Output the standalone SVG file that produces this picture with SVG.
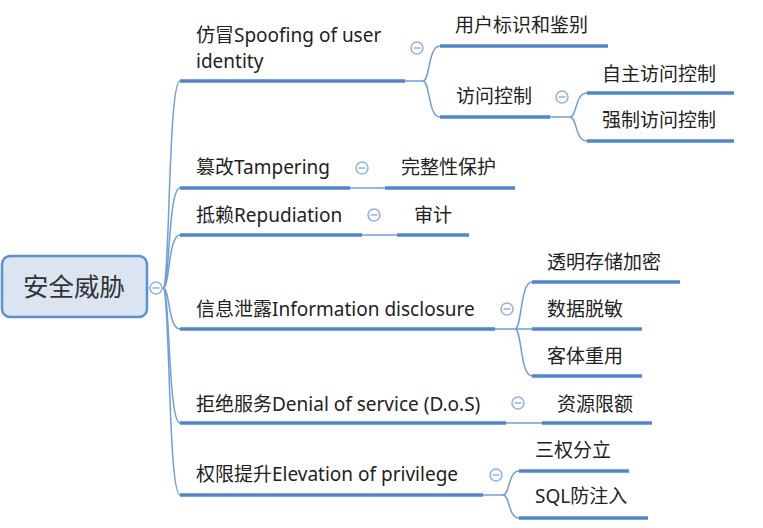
<svg xmlns="http://www.w3.org/2000/svg" width="763" height="528" viewBox="0 0 763 528">
<style>
text{font-family:"Noto Sans","Noto Sans CJK SC",sans-serif;font-size:19px;fill:#222;}
.root{font-size:25.5px;fill:#333;}
.u{stroke:#4f86d4;stroke-width:3.5;fill:none;}
.c{stroke:#6f9ee0;stroke-width:1.5;fill:none;}
.m{fill:#fff;stroke:#8fb2e6;stroke-width:1.5;}
.mb{stroke:#8fb2e6;stroke-width:1.5;}
</style>
<rect width="763" height="528" fill="#fff"/>
<g id="connectors">
<path class="c" d="M149,288 H163"/>
<path class="c" d="M163,288 C170,288 168,81 180,81"/>
<path class="c" d="M163,288 C170,288 168,188 180,188"/>
<path class="c" d="M163,288 C170,288 168,235 180,235"/>
<path class="c" d="M163,288 C170,288 168,329 180,329"/>
<path class="c" d="M163,288 C170,288 168,423 180,423"/>
<path class="c" d="M163,288 C170,288 168,495 180,495"/>
<path class="c" d="M405,81 H423 C430,81 428,46 440,46"/>
<path class="c" d="M423,81 C430,81 428,117 440,117"/>
<path class="c" d="M550,117 H570 C577,117 575,93 587,93"/>
<path class="c" d="M570,117 C577,117 575,141 587,141"/>
<path class="c" d="M350,188 H385"/>
<path class="c" d="M362,235 H397"/>
<path class="c" d="M495,329 H515 C522,329 520,282 532,282"/>
<path class="c" d="M515,329 H532"/>
<path class="c" d="M515,329 C522,329 520,376 532,376"/>
<path class="c" d="M506,423 H542"/>
<path class="c" d="M483,495 H503 C510,495 508,471 519,471"/>
<path class="c" d="M503,495 C510,495 508,518 519,518"/>
</g>
<g id="root">
<rect x="2" y="256" width="145" height="61" rx="8" fill="#dbe5f2" stroke="#5b8fd6" stroke-width="2.5"/>
<text class="root" x="74" y="296" text-anchor="middle">安全威胁</text>
<circle class="m" cx="156" cy="288" r="6"/><line class="mb" x1="152.5" y1="288" x2="159.5" y2="288"/>
</g>
<g id="spoofing">
<text x="196" y="42">仿冒Spoofing of user</text>
<text x="196" y="68">identity</text>
<path class="u" d="M180,81 H405"/>
<circle class="m" cx="417" cy="48" r="6"/><line class="mb" x1="413.5" y1="48" x2="420.5" y2="48"/>
</g>
<g id="user-auth">
<text x="455" y="32">用户标识和鉴别</text>
<path class="u" d="M440,46 H608"/>
</g>
<g id="access-control">
<text x="456" y="103">访问控制</text>
<path class="u" d="M440,117 H550"/>
<circle class="m" cx="562" cy="97" r="6"/><line class="mb" x1="558.5" y1="97" x2="565.5" y2="97"/>
</g>
<g id="dac">
<text x="602" y="81">自主访问控制</text>
<path class="u" d="M587,93 H734"/>
</g>
<g id="mac">
<text x="602" y="127">强制访问控制</text>
<path class="u" d="M587,141 H734"/>
</g>
<g id="tampering">
<text x="196" y="174">篡改Tampering</text>
<path class="u" d="M180,188 H350"/>
<circle class="m" cx="362" cy="168" r="6"/><line class="mb" x1="358.5" y1="168" x2="365.5" y2="168"/>
</g>
<g id="integrity">
<text x="401" y="174">完整性保护</text>
<path class="u" d="M385,188 H515"/>
</g>
<g id="repudiation">
<text x="196" y="222">抵赖Repudiation</text>
<path class="u" d="M180,235 H362"/>
<circle class="m" cx="374" cy="215" r="6"/><line class="mb" x1="370.5" y1="215" x2="377.5" y2="215"/>
</g>
<g id="audit">
<text x="414" y="222">审计</text>
<path class="u" d="M397,235 H469"/>
</g>
<g id="disclosure">
<text x="196" y="316">信息泄露Information disclosure</text>
<path class="u" d="M180,329 H495"/>
<circle class="m" cx="507" cy="309" r="6"/><line class="mb" x1="503.5" y1="309" x2="510.5" y2="309"/>
</g>
<g id="tde">
<text x="547" y="269">透明存储加密</text>
<path class="u" d="M532,282 H680"/>
</g>
<g id="masking">
<text x="547" y="316">数据脱敏</text>
<path class="u" d="M532,329 H642"/>
</g>
<g id="object-reuse">
<text x="547" y="363">客体重用</text>
<path class="u" d="M532,376 H642"/>
</g>
<g id="dos">
<text x="196" y="411">拒绝服务Denial of service (D.o.S)</text>
<path class="u" d="M180,423 H506"/>
<circle class="m" cx="518" cy="403" r="6"/><line class="mb" x1="514.5" y1="403" x2="521.5" y2="403"/>
</g>
<g id="quota">
<text x="557" y="411">资源限额</text>
<path class="u" d="M542,423 H652"/>
</g>
<g id="elevation">
<text x="196" y="481">权限提升Elevation of privilege</text>
<path class="u" d="M180,495 H483"/>
<circle class="m" cx="496" cy="475" r="6"/><line class="mb" x1="492.5" y1="475" x2="499.5" y2="475"/>
</g>
<g id="separation">
<text x="535" y="457">三权分立</text>
<path class="u" d="M519,471 H629"/>
</g>
<g id="sqli">
<text x="535" y="503">SQL防注入</text>
<path class="u" d="M519,518 H648"/>
</g>
</svg>
